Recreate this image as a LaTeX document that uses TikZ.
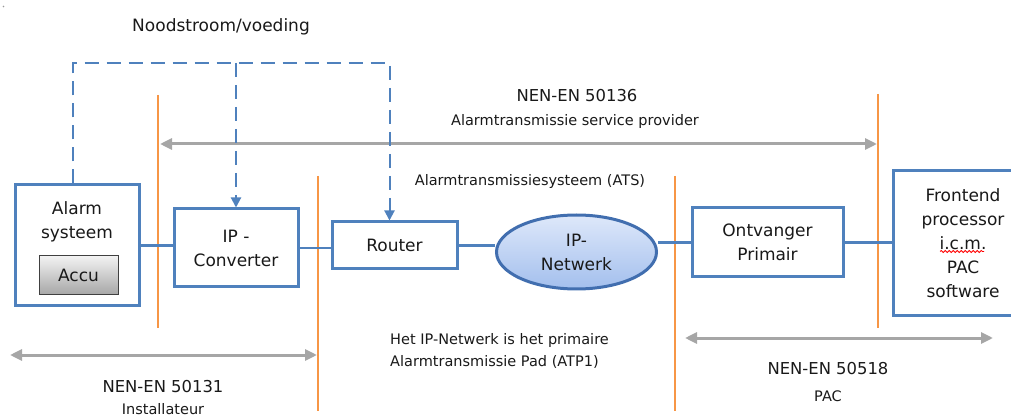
\documentclass[tikz,border=0pt]{standalone}
\usepackage{fontspec}
\setmainfont{DejaVu Sans}
\usetikzlibrary{shapes.geometric,arrows.meta,decorations.pathmorphing}
\definecolor{lijnblauw}{RGB}{79,129,189}
\definecolor{randblauw}{RGB}{65,110,175}
\definecolor{wolkboven}{RGB}{222,232,250}
\definecolor{wolkonder}{RGB}{163,191,237}
\definecolor{grensoranje}{RGB}{247,150,70}
\definecolor{pijlgrijs}{RGB}{166,166,166}
\newcommand{\groot}{\fontsize{17}{24}\selectfont}
\newcommand{\norm}{\fontsize{16.4}{22}\selectfont}
\newcommand{\klein}{\fontsize{14.5}{22}\selectfont}

\begin{document}
\begin{tikzpicture}[x=1pt,y=-1pt,
  unitbox/.style={draw=lijnblauw,line width=3pt,fill=white,align=center,font=\groot,text=black!90,inner sep=0pt},
  link/.style={draw=lijnblauw,line width=2.5pt},
  power/.style={draw=lijnblauw,line width=2pt,dash pattern=on 14pt off 8pt,-{Triangle[length=10pt,width=10pt]}},
  border/.style={draw=grensoranje,line width=2.5pt},
  span/.style={draw=pijlgrijs,line width=3pt,{Triangle[length=12pt,width=11pt]}-{Triangle[length=12pt,width=11pt]}},
  lbl/.style={font=\groot,text=black!90,inner sep=0pt}]
\useasboundingbox (0,0) rectangle (1011,419);
\clip (0,0) rectangle (1011,419);
\fill[black!40] (3.5,6.5) circle (0.9pt);

% grenzen
\foreach \xa/\ya/\yb in {158/95/328, 318/176/411, 675/176/411, 878/94/328}
  \draw[border] (\xa,\ya) -- (\xa,\yb);

% bereik van de normen
\coordinate (sp1a) at (160,144); \coordinate (sp1b) at (877,144);
\coordinate (sp2a) at (10,355);  \coordinate (sp2b) at (317,355);
\coordinate (sp3a) at (685,338); \coordinate (sp3b) at (993,338);
\draw[span] (sp1a) -- (sp1b);
\draw[span] (sp2a) -- (sp2b);
\draw[span] (sp3a) -- (sp3b);

% componenten
\node[unitbox,minimum width=124pt,minimum height=121pt] (alarm) at (77,245.5) {};
\node[lbl,align=center] (alarmtxt) at (77,222) {Alarm\\systeem};
\node[draw=black!75,line width=1pt,top color=black!5,bottom color=black!35,
  minimum width=79pt,minimum height=39pt,inner sep=0pt,font=\groot,text=black!90] (accu) at (78.5,275.5) {Accu};
\node[unitbox,minimum width=124pt,minimum height=78pt] (conv) at (236,248) {IP -\\Converter};
\node[unitbox,minimum width=125pt,minimum height=47pt] (router) at (394.5,245.5) {Router};
\node[ellipse,draw=randblauw,line width=3pt,top color=wolkboven,bottom color=wolkonder,
  minimum width=160pt,minimum height=74pt,inner sep=0pt,align=center,font=\groot,text=black!90] (net) at (576.5,252) {IP-\\Netwerk};
\node[unitbox,minimum width=151pt,minimum height=69pt] (ontv) at (767.5,242.5) {Ontvanger\\Primair};
\node[unitbox,minimum width=140pt,minimum height=145pt] (front) at (963,243.5) {Frontend\\processor\\i.c.m.\\PAC\\software};
\draw[red,line width=0.8pt,decorate,decoration={snake,amplitude=1pt,segment length=4pt}]
  ([xshift=-23pt,yshift=-8pt]front.center) -- ([xshift=21pt,yshift=-8pt]front.center);

% verbindingen
\draw[link] (alarm.east) -- (alarm.east -| conv.west);
\draw[link] (conv.east) -- (conv.east -| router.west);
\draw[link] (router.east) -- (router.east -| net.west);
\draw[link] (ontv.west -| net.east) -- (ontv.west);
\draw[link] (ontv.east) -- (ontv.east -| front.west);

% noodstroom
\coordinate (pw) at (0,63);
\coordinate (atop) at ([xshift=-4pt]alarm.north);
\coordinate (rtop) at ([xshift=-5pt]router.north);
\draw[power] (atop) |- (rtop |- pw) -- (rtop);
\draw[power] (conv.north |- pw) -- (conv.north);

% teksten
\node[lbl] (nood) at (221,27) {Noodstroom/voeding};
\node[lbl,font=\norm] (nen136) at (577,96) {NEN-EN 50136};
\node[lbl,font=\klein] (asp) at (575,122) {Alarmtransmissie service provider};
\node[lbl,font=\klein] (ats) at (530,182) {Alarmtransmissiesysteem (ATS)};
\node[lbl,font=\klein,align=left,anchor=west] (atp) at (390,351) {Het IP-Netwerk is het primaire\\Alarmtransmissie Pad (ATP1)};
\node[lbl,font=\norm] (nen131) at (163,387) {NEN-EN 50131};
\node[lbl,font=\klein] (inst) at (163,409) {Installateur};
\node[lbl,font=\norm] (nen518) at (828,369) {NEN-EN 50518};
\node[lbl,font=\klein] (pac) at (828,396) {PAC};
\end{tikzpicture}
\end{document}
